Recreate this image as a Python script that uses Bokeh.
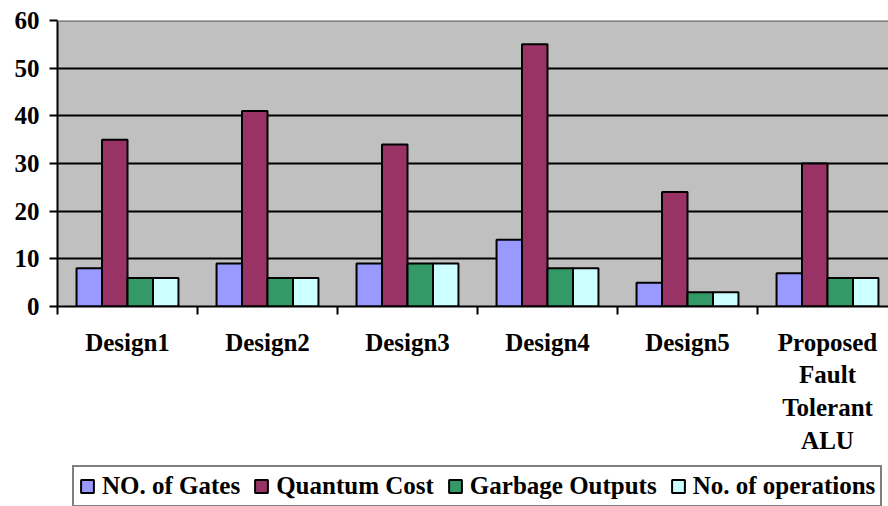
from bokeh.plotting import figure
from bokeh.models import (ColumnDataSource, Range1d, FixedTicker, Legend, LegendItem, Span, Spacer)
from bokeh.layouts import column, row
from bokeh.transform import dodge
from bokeh.embed import file_html
from bokeh.resources import INLINE

categories = ["Design1", "Design2", "Design3", "Design4", "Design5",
              "Proposed\nFault\nTolerant\nALU"]
gates = [8, 9, 9, 14, 5, 7]
quantum_cost = [35, 41, 34, 55, 24, 30]
garbage = [6, 6, 9, 8, 3, 6]
operations = [6, 6, 9, 8, 3, 6]
series_names = ["NO. of Gates", "Quantum Cost", "Garbage Outputs", "No. of operations"]
colors = ["#9999FF", "#993366", "#339966", "#CCFFFF"]
y_ticks = [0, 10, 20, 30, 40, 50, 60]

FONT = "Liberation Serif"
FS = "25px"

centers = [i + 0.5 for i in range(len(categories))]
src = ColumnDataSource(dict(x=centers, g=gates, q=quantum_cost, ga=garbage, o=operations))

p = figure(width=888, height=464, output_backend="svg", toolbar_location=None,
           x_range=Range1d(0, 831 / 140), y_range=Range1d(0, 60),
           min_border_left=57, min_border_right=0, min_border_top=20, min_border_bottom=158)
p.background_fill_color = "#C0C0C0"
p.border_fill_color = "white"
p.outline_line_color = None

w = 0.182
keys = ["g", "q", "ga", "o"]
for k, (key, col) in enumerate(zip(keys, colors)):
    p.vbar(x=dodge("x", (k - 1.5) * w, range=p.x_range), top=key, width=w, source=src,
           fill_color=col, line_color="black", line_width=2)

# top edge
p.add_layout(Span(location=60, dimension="width", line_color="#808080", line_width=3))

# grid
p.xgrid.visible = False
p.ygrid.ticker = FixedTicker(ticks=y_ticks[1:-1])
p.ygrid.grid_line_color = "black"
p.ygrid.grid_line_width = 2
p.ygrid.level = "underlay"

# y axis
p.yaxis.ticker = FixedTicker(ticks=y_ticks)
p.yaxis.axis_line_color = "black"
p.yaxis.axis_line_width = 2
p.yaxis.major_tick_out = 8
p.yaxis.major_tick_in = 0
p.yaxis.major_tick_line_width = 2
p.yaxis.minor_tick_line_color = None
p.yaxis.minor_tick_out = 0
p.yaxis.major_label_standoff = 10
p.yaxis.major_label_text_font = FONT
p.yaxis.major_label_text_font_style = "bold"
p.yaxis.major_label_text_font_size = FS
p.yaxis.major_label_text_color = "black"

# x axis
p.xaxis.ticker = FixedTicker(ticks=centers, minor_ticks=list(range(len(categories) + 1)))
p.xaxis.major_label_overrides = {c: lab for c, lab in zip(centers, categories)}
p.xaxis.axis_line_color = "black"
p.xaxis.axis_line_width = 2
p.xaxis.major_tick_line_color = None
p.xaxis.major_tick_out = 0
p.xaxis.major_tick_in = 0
p.xaxis.minor_tick_out = 8
p.xaxis.minor_tick_in = 0
p.xaxis.minor_tick_line_width = 2
p.xaxis.minor_tick_line_color = "black"
p.xaxis.major_label_standoff = 14
p.xaxis.major_label_text_font = FONT
p.xaxis.major_label_text_font_style = "bold"
p.xaxis.major_label_text_font_size = FS
p.xaxis.major_label_text_color = "black"
p.xaxis.major_label_text_line_height = 1.22

# legend strip
p2 = figure(width=817, height=42, output_backend="svg", toolbar_location=None,
            x_range=Range1d(0, 1), y_range=Range1d(0, 1),
            min_border_left=0, min_border_right=0, min_border_top=0, min_border_bottom=0,
            x_axis_location=None, y_axis_location=None)
p2.outline_line_color = None
p2.xgrid.visible = False
p2.ygrid.visible = False
p2.background_fill_color = "white"
leg_renderers = []
for col in colors:
    # legend swatch holders, hidden behind the opaque legend box
    r = p2.vbar(x=[0.5], top=[0.5], bottom=[0.2], width=0.05, fill_color=col, line_color="black", line_width=2)
    leg_renderers.append(r)

legend = Legend(items=[LegendItem(label=n, renderers=[r]) for n, r in zip(series_names, leg_renderers)],
                orientation="horizontal", location="top_left")
legend.label_text_font = FONT
legend.label_text_font_style = "bold"
legend.label_text_font_size = FS
legend.label_text_color = "black"
legend.glyph_width = 16
legend.glyph_height = 16
legend.label_standoff = 7
legend.spacing = 13
legend.padding = 5
legend.margin = 1
legend.border_line_color = "black"
legend.border_line_width = 2.5
legend.background_fill_color = "white"
legend.background_fill_alpha = 1
p2.add_layout(legend, "center")

layout = column(p, row(Spacer(width=71, height=42), p2, spacing=0), spacing=0)
open("out.html", "w").write(file_html(layout, INLINE))
